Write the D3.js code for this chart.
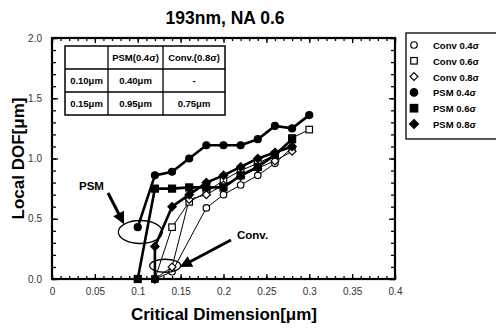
<!DOCTYPE html>
<html>
<head>
<meta charset="utf-8">
<script src="https://cdn.jsdelivr.net/npm/d3@7"></script>
<style>
  body { margin: 0; background: #fff; }
  svg { font-family: "Liberation Sans", Arial, sans-serif; }
</style>
</head>
<body>
<svg id="chart" width="496" height="328"></svg>
<script>
// data
const conv04X = [0.12, 0.14, 0.18, 0.20, 0.22, 0.24, 0.26, 0.28];
const conv04Y = [0.00, 0.06, 0.59, 0.70, 0.78, 0.86, 0.96, 1.09];
const conv06X = [0.12, 0.14, 0.16, 0.18, 0.20, 0.22, 0.24, 0.26, 0.28, 0.30];
const conv06Y = [0.00, 0.43, 0.64, 0.72, 0.82, 0.90, 0.96, 1.03, 1.17, 1.24];
const conv08X = [0.12, 0.14, 0.16, 0.18, 0.20, 0.22, 0.24, 0.26, 0.28];
const conv08Y = [0.00, 0.10, 0.66, 0.70, 0.78, 0.85, 0.92, 0.98, 1.06];
const psm04X = [0.10, 0.12, 0.14, 0.16, 0.18, 0.20, 0.22, 0.24, 0.26, 0.28, 0.30];
const psm04Y = [0.43, 0.86, 0.89, 1.00, 1.11, 1.11, 1.11, 1.16, 1.27, 1.25, 1.36];
const psm06X = [0.10, 0.12, 0.14, 0.16, 0.18, 0.20, 0.22, 0.24, 0.26, 0.28];
const psm06Y = [0.00, 0.75, 0.75, 0.76, 0.76, 0.76, 0.86, 0.93, 1.03, 1.16];
const psm08X = [0.12, 0.12, 0.14, 0.16, 0.18, 0.20, 0.22, 0.24, 0.26, 0.28];
const psm08Y = [0.00, 0.27, 0.60, 0.70, 0.80, 0.86, 0.93, 1.00, 1.05, 1.10];

const seriesNames = ['Conv 0.4σ', 'Conv 0.6σ', 'Conv 0.8σ', 'PSM 0.4σ', 'PSM 0.6σ', 'PSM 0.8σ'];
const xTicks = [0, 0.05, 0.1, 0.15, 0.2, 0.25, 0.3, 0.35, 0.4];
const xTickLabels = ['0', '0.05', '0.1', '0.15', '0.2', '0.25', '0.3', '0.35', '0.4'];
const yTicks = [0, 0.5, 1.0, 1.5, 2.0];

const tableHead = ['', 'PSM(0.4σ)', 'Conv.(0.8σ)'];
const tableRows = [
  ['0.10μm', '0.40μm', '-'],
  ['0.15μm', '0.95μm', '0.75μm']
];

const svg = d3.select('#chart');
const pLeft = 52, pRight = 395, pTop = 38, pBottom = 279;

const x = d3.scaleLinear().domain([0, 0.4]).range([pLeft, pRight]);
const y = d3.scaleLinear().domain([0, 2]).range([pBottom, pTop]);

// title
svg.append('text')
  .attr('x', 225).attr('y', 24)
  .attr('text-anchor', 'middle')
  .style('font-size', '17.5px').style('font-weight', 'bold')
  .text('193nm, NA 0.6');

// axes with inward ticks (bottom/left labelled, top/right bare)
const xMinor = d3.range(0, 0.4001, 0.01);
const yMinor = d3.range(0, 2.0001, 0.1);

const xAxis = d3.axisBottom(x).tickValues(xTicks).tickFormat((d, i) => xTickLabels[i]).tickSizeInner(-5).tickSizeOuter(0).tickPadding(9);
svg.append('g').attr('transform', 'translate(0,' + pBottom + ')').call(xAxis);
svg.append('g').attr('transform', 'translate(0,' + pBottom + ')')
  .call(d3.axisBottom(x).tickValues(xMinor).tickFormat('').tickSizeInner(-3).tickSizeOuter(0));
svg.append('g').attr('transform', 'translate(0,' + pTop + ')')
  .call(d3.axisTop(x).tickValues(xTicks).tickFormat('').tickSizeInner(-5).tickSizeOuter(0));
svg.append('g').attr('transform', 'translate(0,' + pTop + ')')
  .call(d3.axisTop(x).tickValues(xMinor).tickFormat('').tickSizeInner(-3).tickSizeOuter(0));

const yAxis = d3.axisLeft(y).tickValues(yTicks).tickFormat(d3.format('.1f')).tickSizeInner(-6).tickSizeOuter(0).tickPadding(10);
svg.append('g').attr('transform', 'translate(' + pLeft + ',0)').call(yAxis);
svg.append('g').attr('transform', 'translate(' + pLeft + ',0)')
  .call(d3.axisLeft(y).tickValues(yMinor).tickFormat('').tickSizeInner(-4).tickSizeOuter(0));
svg.append('g').attr('transform', 'translate(' + pRight + ',0)')
  .call(d3.axisRight(y).tickValues(yTicks).tickFormat('').tickSizeInner(-6).tickSizeOuter(0));
svg.append('g').attr('transform', 'translate(' + pRight + ',0)')
  .call(d3.axisRight(y).tickValues(yMinor).tickFormat('').tickSizeInner(-4).tickSizeOuter(0));

svg.selectAll('.domain').remove();
svg.selectAll('.tick line').attr('stroke', '#000').attr('stroke-width', 1.3);
svg.selectAll('.tick text').attr('fill', '#333').style('font-size', '10px').style('font-family', '"Liberation Sans", Arial, sans-serif');

// frame
svg.append('rect')
  .attr('x', pLeft).attr('y', pTop)
  .attr('width', pRight - pLeft).attr('height', pBottom - pTop)
  .attr('fill', 'none').attr('stroke', '#000').attr('stroke-width', 2.2);

// axis titles
svg.append('text')
  .attr('x', 224).attr('y', 320)
  .attr('text-anchor', 'middle')
  .style('font-size', '17px').style('font-weight', 'bold')
  .text('Critical Dimension[μm]');
svg.append('text')
  .attr('transform', 'translate(24,' + ((pTop + pBottom) / 2) + ') rotate(-90)')
  .attr('text-anchor', 'middle')
  .style('font-size', '17px').style('font-weight', 'bold')
  .text('Local DOF[μm]');

// table
const colX = [65, 108, 163, 225];
const rowY = [46, 69, 92, 115];
const tbl = svg.append('g');
tbl.append('rect').attr('x', colX[0]).attr('y', rowY[0])
  .attr('width', colX[3] - colX[0]).attr('height', rowY[3] - rowY[0])
  .attr('fill', '#fff').attr('stroke', '#000').attr('stroke-width', 1.5);
colX.slice(1, 3).forEach(cx => tbl.append('line').attr('x1', cx).attr('x2', cx).attr('y1', rowY[0]).attr('y2', rowY[3]).attr('stroke', '#000').attr('stroke-width', 1.3));
rowY.slice(1, 3).forEach(ry => tbl.append('line').attr('x1', colX[0]).attr('x2', colX[3]).attr('y1', ry).attr('y2', ry).attr('stroke', '#000').attr('stroke-width', 1.3));
[tableHead].concat(tableRows).forEach((row, r) => {
  row.forEach((cell, c) => {
    tbl.append('text')
      .attr('x', (colX[c] + colX[c + 1]) / 2)
      .attr('y', (rowY[r] + rowY[r + 1]) / 2 + 3.5)
      .attr('text-anchor', 'middle')
      .style('font-size', '9.5px').style('font-weight', 'bold')
      .text(cell);
  });
});

// series
const series = [
  { xs: conv04X, ys: conv04Y, shape: 'circle', fill: false, w: 1 },
  { xs: conv06X, ys: conv06Y, shape: 'square', fill: false, w: 1 },
  { xs: conv08X, ys: conv08Y, shape: 'diamond', fill: false, w: 1 },
  { xs: psm04X, ys: psm04Y, shape: 'circle', fill: true, w: 2.6 },
  { xs: psm06X, ys: psm06Y, shape: 'square', fill: true, w: 2.6 },
  { xs: psm08X, ys: psm08Y, shape: 'diamond', fill: true, w: 2.6 }
];

function marker(g, shape, filled, cx, cy, s) {
  let el;
  if (shape === 'circle') {
    el = g.append('circle').attr('cx', cx).attr('cy', cy).attr('r', s * 0.5);
  } else if (shape === 'square') {
    el = g.append('rect').attr('x', cx - s * 0.5).attr('y', cy - s * 0.5).attr('width', s).attr('height', s);
  } else {
    const d = s * 0.6;
    el = g.append('path').attr('d', `M${cx},${cy - d}L${cx + d},${cy}L${cx},${cy + d}L${cx - d},${cy}Z`);
  }
  el.attr('fill', filled ? '#000' : '#fff').attr('stroke', '#000').attr('stroke-width', 1.2);
}

const line = d3.line().x(d => x(d[0])).y(d => y(d[1]));
const plot = svg.append('g');
series.forEach(s => {
  const pts = s.xs.map((v, i) => [v, s.ys[i]]);
  plot.append('path').datum(pts)
    .attr('d', line)
    .attr('fill', 'none').attr('stroke', '#000').attr('stroke-width', s.w);
});
series.forEach(s => {
  s.xs.forEach((v, i) => marker(plot, s.shape, s.fill, x(v), y(s.ys[i]), s.fill ? 7 : 6.5));
});

// annotations
const ann = svg.append('g');
ann.append('ellipse').attr('cx', x(0.103)).attr('cy', y(0.39)).attr('rx', 22).attr('ry', 11.5)
  .attr('fill', 'none').attr('stroke', '#000').attr('stroke-width', 1.3);
ann.append('ellipse').attr('cx', x(0.132)).attr('cy', y(0.11)).attr('rx', 15.5).attr('ry', 6.5)
  .attr('fill', 'none').attr('stroke', '#000').attr('stroke-width', 1.3);

svg.append('defs').append('marker')
  .attr('id', 'head').attr('viewBox', '0 0 10 10').attr('refX', 8).attr('refY', 5)
  .attr('markerWidth', 4.5).attr('markerHeight', 4).attr('orient', 'auto')
  .append('path').attr('d', 'M0,0L10,5L0,10Z').attr('fill', '#000');

ann.append('line').attr('x1', 108).attr('y1', 193).attr('x2', 123).attr('y2', 222)
  .attr('stroke', '#000').attr('stroke-width', 3).attr('marker-end', 'url(#head)');
ann.append('line').attr('x1', 231).attr('y1', 240).attr('x2', 182).attr('y2', 266)
  .attr('stroke', '#000').attr('stroke-width', 3).attr('marker-end', 'url(#head)');

ann.append('text').attr('x', 79).attr('y', 190)
  .style('font-size', '11.5px').style('font-weight', 'bold').text('PSM');
ann.append('text').attr('x', 237).attr('y', 239)
  .style('font-size', '11.5px').style('font-weight', 'bold').text('Conv.');

// legend
const lg = svg.append('g');
lg.append('rect').attr('x', 406).attr('y', 33).attr('width', 100).attr('height', 106)
  .attr('fill', '#fff').attr('stroke', '#000').attr('stroke-width', 1.3);
seriesNames.forEach((name, i) => {
  const ly = 46 + i * 15.8;
  marker(lg, series[i].shape, series[i].fill, 414, ly - 1, series[i].fill ? 7.5 : 6.5);
  lg.append('text').attr('x', 433).attr('y', ly + 3)
    .style('font-size', '9.5px').style('font-weight', 'bold').text(name);
});
</script>
</body>
</html>
